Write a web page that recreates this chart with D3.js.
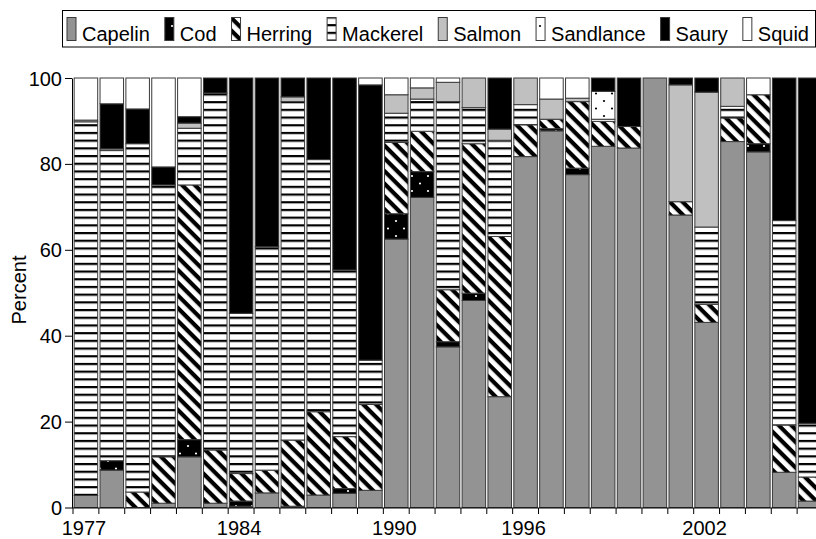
<!DOCTYPE html>
<html><head><meta charset="utf-8">
<script src="https://cdn.jsdelivr.net/npm/d3@7"></script>
<style>
body{margin:0;background:#fff}
svg{display:block}
text{font-family:"Liberation Sans",Arial,Helvetica,sans-serif;fill:#000}
</style>
</head><body>
<svg id="chart" width="816" height="539"></svg>
<script>
// ---------- data ----------
const barIds = ["b01","b02","b03","b04","b05","b06","b07","b08","b09","b10","b11","b12","b13","b14","b15",
                "b16","b17","b18","b19","b20","b21","b22","b23","b24","b25","b26","b27","b28","b29"];
const xTickLabels = ["1977","","","","","","1984","","","","","","1990","","","","","1996","","","","","","","2002","","","",""];
const species = ["Capelin","Cod","Herring","Mackerel","Salmon","Sandlance","Saury","Squid"];
const capelin   = [2.8,8.7,0,1,11.8,1,0.3,3.4,0.3,2.9,3.3,4.0,62.5,72.2,37.4,48.2,25.8,81.7,87.7,77.5,84.1,83.7,100,68.1,43.1,85.2,82.8,8.2,1.5];
const cod       = [0,2.2,0,0,4.0,0,1.2,0,0,0,1.1,0,5.9,6.0,1.2,1.7,0,0,0.5,1.5,0,0,0,0,0,0,1.9,0,0];
const herring   = [0,0,3.6,10.8,59.3,12.4,6.4,5.3,15.4,19.4,12.1,20.0,16.6,9.4,12.1,34.8,37.3,7.4,2.2,15.5,5.8,5.0,0,3.1,4.2,5.5,11.4,11.0,5.6];
const mackerel  = [87.0,72.2,81.1,63.3,13.2,83.1,37.3,52.0,78.8,58.7,38.8,10.3,6.8,7.5,43.8,8.4,22.4,4.7,0,0,0.5,0,0,0,18.0,2.7,0,47.6,12.5];
const salmon    = [0.4,0.4,0,0,1.2,0,0,0,1.1,0,0,0,4.3,2.6,4.5,6.9,2.6,6.2,4.7,0.8,0,0,0,27.2,31.4,6.6,0,0,0];
const sandlance = [0,0,0,0,0,0,0,0,0,0,0,0,0,0,0,0,0,0,0,0,6.5,0,0,0,0,0,0,0,0];
const saury     = [0,10.5,8.1,4.2,1.5,3.5,54.8,39.3,4.4,19.0,44.7,64.1,0,0,0,0,11.9,0,0,0,3.1,11.3,0,1.6,3.3,0,0,33.2,80.4];
const squid     = [9.8,6.0,7.2,20.7,9.0,0,0,0,0,0,0,1.6,3.9,2.3,1.0,0,0,0,4.9,4.7,0,0,0,0,0,0,3.9,0,0];
const yTicks = [0,20,40,60,80,100];

const seriesValues = {Capelin:capelin,Cod:cod,Herring:herring,Mackerel:mackerel,Salmon:salmon,Sandlance:sandlance,Saury:saury,Squid:squid};
const table = barIds.map((id,i)=>{const r={id};species.forEach(s=>r[s]=seriesValues[s][i]);return r;});

// ---------- drawing ----------
const svg = d3.select("#chart");
const defs = svg.append("defs");

// patterns
const pHer = defs.append("pattern").attr("id","p-herring").attr("patternUnits","userSpaceOnUse")
  .attr("width",9).attr("height",9).attr("patternTransform","rotate(45)");
pHer.append("rect").attr("width",9).attr("height",9).attr("fill","#fff");
pHer.append("rect").attr("width",9).attr("height",4.2).attr("fill","#000");

const pMac = defs.append("pattern").attr("id","p-mackerel").attr("patternUnits","userSpaceOnUse")
  .attr("width",10).attr("height",7.7).attr("y",1);
pMac.append("rect").attr("width",10).attr("height",7.7).attr("fill","#fff");
pMac.append("rect").attr("width",10).attr("height",2.2).attr("fill","#000");

const pCod = defs.append("pattern").attr("id","p-cod").attr("patternUnits","userSpaceOnUse")
  .attr("width",16).attr("height",15);
pCod.append("rect").attr("width",16).attr("height",15).attr("fill","#000");
pCod.append("circle").attr("cx",4).attr("cy",3.5).attr("r",1.1).attr("fill","#fff");
pCod.append("circle").attr("cx",12).attr("cy",11).attr("r",1.1).attr("fill","#fff");

const pSand = defs.append("pattern").attr("id","p-sand").attr("patternUnits","userSpaceOnUse")
  .attr("width",16).attr("height",15);
pSand.append("rect").attr("width",16).attr("height",15).attr("fill","#fff");
pSand.append("circle").attr("cx",4).attr("cy",3.5).attr("r",1.1).attr("fill","#000");
pSand.append("circle").attr("cx",12).attr("cy",11).attr("r",1.1).attr("fill","#000");

const fills = {Capelin:"#939393",Cod:"url(#p-cod)",Herring:"url(#p-herring)",Mackerel:"url(#p-mackerel)",
               Salmon:"#c0c0c0",Sandlance:"url(#p-sand)",Saury:"#000",Squid:"#fff"};

const x = d3.scaleBand().domain(barIds).range([73,823]).paddingInner(0.09).paddingOuter(0.045);
const y = d3.scaleLinear().domain([0,100]).range([507.5,78]);

const stacked = d3.stack().keys(species)(table);

const g = svg.append("g");
stacked.forEach(layer=>{
  g.append("g").selectAll("rect")
    .data(layer.filter(d=>d[1]-d[0]>0))
    .join("rect")
    .attr("x",d=>x(d.data.id))
    .attr("width",x.bandwidth())
    .attr("y",d=>y(d[1]))
    .attr("height",d=>y(d[0])-y(d[1]))
    .attr("fill",fills[layer.key])
    .attr("stroke","#3a3a3a")
    .attr("stroke-width",1);
});

// y axis
const yAxis = svg.append("g").attr("transform","translate(72,0)")
  .call(d3.axisLeft(y).tickValues(yTicks).tickSize(7).tickSizeOuter(0).tickPadding(3));
yAxis.selectAll("text").style("font-size","20px").attr("dy","0.35em");
yAxis.selectAll("line,path").attr("stroke","#000");

// x axis: labels at bar centres, tick marks between bars
const xAxisG = svg.append("g").attr("transform","translate(0,508)");
xAxisG.append("line").attr("x1",72).attr("x2",823).attr("stroke","#000");
const half = x.step()*x.paddingInner()/2;
xAxisG.selectAll("line.tk").data(barIds).join("line").attr("class","tk")
  .attr("x1",d=>x(d)-half).attr("x2",d=>x(d)-half).attr("y1",0).attr("y2",6).attr("stroke","#000");
xAxisG.selectAll("text").data(barIds.filter((d,i)=>xTickLabels[i])).join("text")
  .attr("x",d=>x(d)+x.bandwidth()/2-2).attr("y",27).attr("text-anchor","middle").style("font-size","20px")
  .text(d=>xTickLabels[barIds.indexOf(d)]);

// y title
svg.append("text").attr("transform","translate(26,290) rotate(-90)").attr("text-anchor","middle")
  .style("font-size","20px").text("Percent");

// legend
const lg = svg.append("g");
lg.append("rect").attr("x",62.5).attr("y",10.5).attr("width",753).attr("height",36.5)
  .attr("fill","#fff").attr("stroke","#000");
let lx = 67;
species.forEach(s=>{
  lg.append("rect").attr("x",lx).attr("y",17.5).attr("width",9).attr("height",23)
    .attr("fill",fills[s]).attr("stroke","#3a3a3a");
  const t = lg.append("text").attr("x",lx+15).attr("y",41).style("font-size","20px").text(s);
  lx += 15 + t.node().getComputedTextLength() + 15;
});
</script>
</body></html>
